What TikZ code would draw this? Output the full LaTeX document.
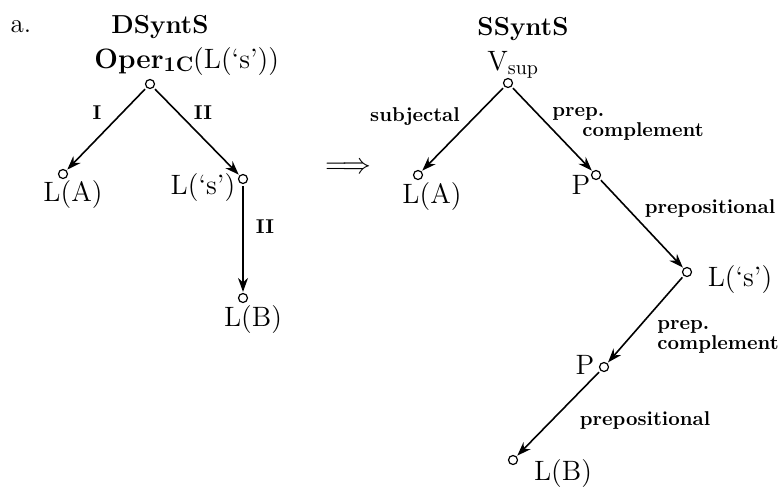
\documentclass[tikz,border=0pt]{standalone}
\usetikzlibrary{arrows.meta}
\begin{document}
\begin{tikzpicture}[x=0.5pt, y=-0.5pt,
  vert/.style={circle, draw, line width=0.6pt, inner sep=0pt, minimum size=4.5pt},
  word/.style={font=\fontsize{14}{16}\selectfont, inner sep=0pt},
  rel/.style={font=\fontsize{10}{10}\selectfont\bfseries, inner sep=0pt, align=left},
  ttl/.style={font=\fontsize{13}{15}\selectfont\bfseries, inner sep=0pt},
  arr/.style={-{Stealth[length=7pt, width=5pt]}, line width=0.8pt,
              shorten <=1pt, shorten >=0.5pt}
]
\useasboundingbox (0,0) rectangle (779,488);
% LEFT: deep syntactic tree
\node[word, anchor=base, font=\fontsize{13.5}{15}\selectfont] (tag) at (21, 32) {a.};
\node[ttl, anchor=base] (dtitle) at (160, 33) {DSyntS};
\node[vert] (droot) at (150, 84) {};
\node[vert] (da) at (63, 174) {};
\node[vert] (ds) at (243, 179) {};
\node[vert] (db) at (243, 298) {};
\node[word, anchor=base west] (drootlbl) at (94, 68)
  {\textbf{Oper}\raisebox{-0.3ex}{\fontsize{10.5}{11}\selectfont\bfseries 1C}(L(`s'))};
\node[word] (dalbl) at (73, 195) {L(A)};
\node[word] (dslbl) at (203, 188) {L(`s')};
\node[word] (dblbl) at (253, 320) {L(B)};
\draw[arr] (droot) -- (da);
\draw[arr] (droot) -- (ds);
\draw[arr] (ds) -- (db);
\node[rel] (dr1) at (97, 113) {I};
\node[rel] (dr2) at (203, 113) {II};
\node[rel] (dr3) at (265, 227) {II};
% MIDDLE
\node[word] (maps) at (348, 168) {$\Longrightarrow$};
% RIGHT: surface syntactic tree
\node[ttl, anchor=base] (stitle) at (523, 35) {SSyntS};
\node[vert] (sroot) at (508, 83) {};
\node[vert] (sa) at (418, 175) {};
\node[vert] (sp1) at (596, 175) {};
\node[vert] (ss) at (687, 272) {};
\node[vert] (sp2) at (604, 367) {};
\node[vert] (sb) at (513, 460) {};
\node[word, anchor=base west] (srootlbl) at (487, 70)
  {V\raisebox{-0.4ex}{\fontsize{10}{10}\selectfont sup}};
\node[word] (salbl) at (432, 197) {L(A)};
\node[word] (sp1lbl) at (581, 185) {P};
\node[word] (sslbl) at (740, 280) {L(`s')};
\node[word] (sp2lbl) at (585, 365) {P};
\node[word] (sblbl) at (563, 473) {L(B)};
\draw[arr] (sroot) -- (sa);
\draw[arr] (sroot) -- (sp1);
\draw[arr] (sp1) -- (ss);
\draw[arr] (ss) -- (sp2);
\draw[arr] (sp2) -- (sb);
\node[rel] (sr1) at (415, 117) {subjectal};
\node[rel, anchor=west] (sr2) at (552, 124) {prep.\\\hspace*{15pt}complement};
\node[rel] (sr3) at (710, 208) {prepositional};
\node[rel, anchor=west] (sr4) at (657, 337) {prep.\\complement};
\node[rel] (sr5) at (645, 420) {prepositional};
\end{tikzpicture}
\end{document}
